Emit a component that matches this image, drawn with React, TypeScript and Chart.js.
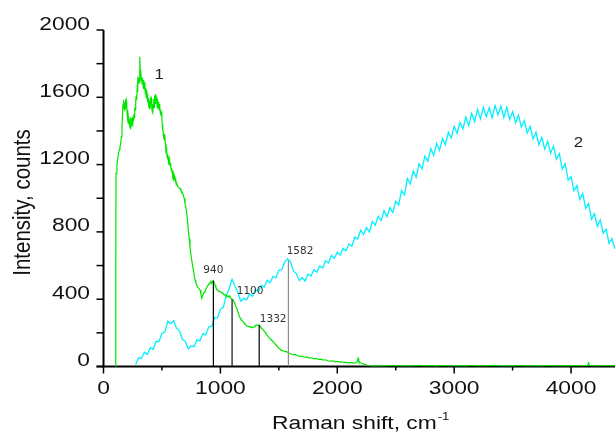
import React, { useEffect, useRef } from "react";
import { Chart, registerables } from "chart.js";

Chart.register(...registerables);

// ---- Data ----
const greenShift = [
  98, 104, 105, 107, 115, 125, 135, 141, 148, 153, 158, 163, 167, 170, 174, 178, 181, 184, 188, 191, 195, 198,
  202, 205, 209, 212, 216, 220, 224, 227, 231, 234, 238, 241, 245, 248, 252, 255, 259, 263, 267, 270, 274, 277,
  280, 284, 288, 291, 295, 298, 302, 305, 309, 312, 315, 319, 323, 327, 330, 334, 338, 341, 345, 348, 352, 355,
  359, 362, 366, 370, 374, 377, 380, 383, 387, 391, 394, 398, 401, 405, 408, 412, 416, 419, 423, 426, 430, 434,
  437, 441, 444, 448, 451, 455, 458, 462, 465, 469, 473, 476, 480, 483, 487, 490, 494, 498, 502, 505, 509, 512,
  516, 519, 523, 526, 530, 534, 537, 541, 545, 548, 552, 555, 559, 562, 566, 569, 573, 576, 580, 583, 587, 590,
  594, 597, 601, 605, 608, 612, 616, 619, 623, 626, 633, 640, 648, 655, 662, 669, 676, 683, 690, 697, 705, 712,
  719, 726, 733, 740, 747, 755, 762, 769, 776, 783, 790, 797, 804, 811, 818, 826, 833, 840, 847, 854, 861, 868,
  876, 883, 890, 897, 904, 911, 918, 925, 933, 940, 947, 954, 961, 968, 975, 982, 990, 997, 1004, 1012, 1019,
  1026, 1033, 1040, 1047, 1054, 1061, 1068, 1075, 1082, 1089, 1096, 1103, 1111, 1118, 1125, 1132, 1140, 1147,
  1154, 1161, 1168, 1175, 1182, 1189, 1196, 1203, 1210, 1218, 1225, 1232, 1239, 1246, 1253, 1260, 1267, 1274,
  1282, 1289, 1296, 1303, 1311, 1318, 1325, 1332, 1339, 1346, 1354, 1361, 1368, 1375, 1382, 1390, 1397, 1404,
  1411, 1418, 1425, 1432, 1440, 1447, 1453, 1461, 1468, 1475, 1482, 1490, 1497, 1504, 1511, 1518, 1525, 1532,
  1540, 1547, 1554, 1567, 1580, 1600, 1620, 1640, 1660, 1680, 1700, 1720, 1740, 1760, 1780, 1800, 1820, 1840,
  1860, 1880, 1900, 1920, 1940, 1960, 1980, 2000, 2020, 2040, 2060, 2080, 2100, 2120, 2140, 2160, 2172, 2178,
  2184, 2195, 2210, 2230, 2250, 2270, 2290, 2310, 2350, 2400, 2450, 2500, 2550, 2600, 2650, 2700, 2750, 2800,
  2850, 2900, 2950, 3000, 3050, 3100, 3150, 3200, 3250, 3300, 3350, 3400, 3450, 3500, 3550, 3600, 3650, 3700,
  3750, 3800, 3850, 3900, 3950, 4000, 4050, 4100, 4140, 4150, 4160, 4200, 4250, 4300, 4350, 4376,
];
const greenCounts = [
  0, 0, 600, 1148, 1200, 1250, 1290, 1306, 1330, 1366, 1420, 1500, 1560, 1584, 1530, 1570, 1520, 1544, 1590, 1540, 1580, 1564,
  1500, 1525, 1470, 1485, 1440, 1470, 1420, 1445, 1410, 1480, 1440, 1475, 1430, 1485, 1445, 1465, 1500, 1480, 1540, 1525, 1590, 1560,
  1610, 1584, 1650, 1630, 1700, 1683, 1720, 1690, 1760, 1841, 1730, 1760, 1700, 1722, 1680, 1715, 1670, 1703, 1650, 1690, 1640, 1683,
  1620, 1655, 1600, 1643, 1590, 1620, 1570, 1594, 1540, 1575, 1530, 1564, 1600, 1550, 1595, 1584, 1520, 1560, 1510, 1544, 1590, 1540,
  1610, 1594, 1560, 1620, 1575, 1604, 1550, 1590, 1540, 1574, 1530, 1560, 1520, 1544, 1500, 1525, 1490, 1515, 1440, 1400, 1410, 1386,
  1350, 1380, 1340, 1366, 1320, 1290, 1300, 1267, 1240, 1265, 1230, 1247, 1220, 1235, 1195, 1208, 1185, 1195, 1165, 1178, 1150, 1165,
  1135, 1148, 1120, 1130, 1105, 1119, 1095, 1105, 1080, 1089, 1075, 1068, 1060, 1059, 1045, 1039, 1030, 1019, 1000, 970, 945, 910,
  865, 811, 760, 712, 670, 633, 600, 574, 540, 514, 500, 484, 475, 468, 462, 455, 430, 405, 420, 432, 440, 445,
  460, 470, 478, 485, 492, 498, 505, 495, 508, 510, 498, 485, 470, 462, 455, 448, 445, 445, 442, 436, 438,
  430, 425, 428, 420, 422, 416, 418, 412, 415, 405, 402, 398, 395, 380, 370, 358, 346, 330,
  318, 300, 290, 282, 275, 270, 266, 258, 252, 246, 242, 240, 236, 238, 237, 232, 236, 230,
  234, 236, 240, 244, 247, 245, 244, 247, 238, 232, 227, 222, 216, 210, 204, 196, 188, 182,
  176, 170, 165, 160, 156, 150, 147, 140, 134, 128, 122, 116, 110, 105, 102, 98, 96, 94,
  92, 90, 88, 88, 82, 76, 70, 72, 64, 60, 62, 55, 57, 50, 52, 45, 48, 42,
  44, 38, 40, 34, 32, 34, 28, 30, 26, 28, 24, 25, 22, 24, 20, 22, 30, 48,
  30, 24, 18, 14, 9, 6, 3, 1, 4, 2, 6, 3, 5, 2, 4, 7, 3, 5,
  2, 6, 4, 3, 5, 2, 6, 4, 3, 5, 7, 3, 4, 2, 6, 4, 3, 5,
  2, 6, 4, 3, 5, 4, 6, 3, 5, 22, 6, 4, 3, 6, 4, 5,
];

const blueShift = [
  275, 300, 325, 350, 375, 400, 425, 450, 475, 500, 525, 550, 575, 600, 625, 650, 675, 700, 725, 750, 775, 800,
  825, 850, 875, 900, 925, 950, 975, 1000, 1025, 1050, 1075, 1100, 1125, 1150, 1175, 1200, 1225, 1250, 1275,
  1300, 1325, 1350, 1375, 1400, 1425, 1450, 1475, 1500, 1525, 1550, 1575, 1600, 1625, 1650, 1675, 1700, 1725,
  1750, 1775, 1800, 1825, 1850, 1875, 1900, 1925, 1950, 1975, 2000, 2025, 2050, 2075, 2100, 2125, 2150, 2175,
  2200, 2225, 2250, 2275, 2300, 2325, 2350, 2375, 2400, 2425, 2450, 2475, 2500, 2525, 2550, 2575, 2600, 2625,
  2650, 2675, 2700, 2725, 2750, 2775, 2800, 2825, 2850, 2875, 2900, 2925, 2950, 2975, 3000, 3025, 3050, 3075,
  3100, 3125, 3150, 3175, 3200, 3225, 3250, 3275, 3300, 3325, 3350, 3375, 3400, 3425, 3450, 3475, 3500, 3525,
  3550, 3575, 3600, 3625, 3650, 3675, 3700, 3725, 3750, 3775, 3800, 3825, 3850, 3875, 3900, 3925, 3950, 3975,
  4000, 4025, 4050, 4075, 4100, 4125, 4150, 4175, 4200, 4225, 4250, 4275, 4300, 4325, 4350, 4375,
];
const blueCounts = [
  12, 52, 48, 85, 72, 112, 102, 150, 148, 196, 205, 268, 255, 272, 228, 212, 162, 148, 105, 122, 118, 158,
  152, 195, 188, 235, 238, 290, 288, 340, 352, 420, 462, 518, 478, 438, 388, 405, 396, 432, 418,
  458, 446, 482, 472, 512, 498, 535, 528, 572, 575, 620, 640, 622, 568, 552, 510, 528, 508,
  548, 538, 575, 560, 598, 585, 628, 615, 660, 642, 680, 662, 702, 688, 728, 715, 770, 758,
  810, 785, 825, 800, 862, 840, 892, 868, 925, 890, 945, 915, 982, 960, 1045, 1020, 1118, 1085,
  1162, 1125, 1205, 1175, 1250, 1220, 1295, 1255, 1325, 1285, 1355, 1318, 1392, 1358, 1428, 1385, 1450, 1412,
  1482, 1432, 1505, 1455, 1528, 1472, 1540, 1485, 1538, 1478, 1552, 1495, 1548, 1480, 1540, 1468, 1515, 1448,
  1495, 1422, 1462, 1388, 1428, 1352, 1392, 1318, 1362, 1292, 1338, 1268, 1310, 1232, 1265, 1172, 1205, 1108,
  1128, 1045, 1075, 992, 1028, 940, 968, 875, 908, 832, 872, 792, 815, 732, 760, 698,
];

const peakShift = [940, 1100, 1332, 1582];
const peakTop = [510, 400, 247, 629];

const curveTag = ["1", "2"];
const curveTagShift = [477, 4062];
const curveTagCount = [1737, 1333];

const xTickValues = [0, 500, 1000, 1500, 2000, 2500, 3000, 3500, 4000];
const xTickLabels = ["0", "", "1000", "", "2000", "", "3000", "", "4000"];
const yTickValues = [0, 200, 400, 600, 800, 1000, 1200, 1400, 1600, 1800, 2000];
const yTickLabels = ["0", "", "400", "", "800", "", "1200", "", "1600", "", "2000"];

const xTitle = "Raman shift, cm";
const xTitleSup = "-1";
const yTitle = "Intensity, counts";

const X_MIN = 0;
const X_MAX = 4376;
const Y_MIN = 0;
const Y_MAX = 2000;

// ---- Style ----
const SX = 1.2;
const AXIS_FONT = '19px "Liberation Sans", Arial, sans-serif';
const peakColors = ["#000000", "#111111", "#000000", "#8a8a8a"];
const peakLabelOffset = [
  [0, -8],
  [18, -5],
  [14, -3.3],
  [11.6, -6.7],
];

function drawText(
  ctx: CanvasRenderingContext2D,
  text: string,
  x: number,
  y: number,
  font: string,
  align: CanvasTextAlign,
  sx: number,
  color: string
) {
  ctx.save();
  ctx.translate(x, y);
  ctx.scale(sx, 1);
  ctx.font = font;
  ctx.fillStyle = color;
  ctx.textAlign = align;
  ctx.textBaseline = "alphabetic";
  ctx.fillText(text, 0, 0);
  ctx.restore();
}

const axesPlugin = {
  id: "customAxes",
  beforeDatasetsDraw(chart: any) {
    const { ctx, scales } = chart;
    const x = scales.x;
    const y = scales.y;
    const x0 = x.getPixelForValue(X_MIN);
    const y0 = y.getPixelForValue(Y_MIN);
    const yTop = y.getPixelForValue(Y_MAX);
    ctx.save();
    ctx.strokeStyle = "#000";
    ctx.lineWidth = 2;
    ctx.beginPath();
    ctx.moveTo(x0, yTop);
    ctx.lineTo(x0, y0 + 1);
    ctx.stroke();
    ctx.beginPath();
    ctx.moveTo(x0 - 7, y0);
    ctx.lineTo(chart.width, y0);
    ctx.stroke();
    ctx.lineWidth = 1.5;
    yTickValues.forEach((v) => {
      const p = y.getPixelForValue(v);
      ctx.beginPath();
      ctx.moveTo(x0 - 7, p);
      ctx.lineTo(x0, p);
      ctx.stroke();
    });
    xTickValues.forEach((v, i) => {
      const p = x.getPixelForValue(v);
      const len = xTickLabels[i] !== "" ? 7 : 4;
      ctx.beginPath();
      ctx.moveTo(p, y0);
      ctx.lineTo(p, y0 + len);
      ctx.stroke();
    });
    ctx.restore();
  },
  afterDraw(chart: any) {
    const { ctx, scales } = chart;
    const x = scales.x;
    const y = scales.y;
    const y0 = y.getPixelForValue(Y_MIN);
    const color = "#111";
    // y tick labels
    yTickValues.forEach((v, i) => {
      if (!yTickLabels[i]) return;
      const p = y.getPixelForValue(v);
      drawText(ctx, yTickLabels[i], 90, p - 0.5, AXIS_FONT, "right", SX, color);
    });
    // x tick labels
    xTickValues.forEach((v, i) => {
      if (!xTickLabels[i]) return;
      const p = x.getPixelForValue(v);
      drawText(ctx, xTickLabels[i], p, y0 + 27, AXIS_FONT, "center", SX, color);
    });
    // x title
    const titleLeft = 272;
    const titleBase = 428.5;
    drawText(ctx, xTitle, titleLeft, titleBase, AXIS_FONT, "left", SX, color);
    ctx.save();
    ctx.font = AXIS_FONT;
    const w = ctx.measureText(xTitle).width * SX;
    ctx.restore();
    drawText(ctx, xTitleSup, titleLeft + w + 1, titleBase - 8.5, '11px "Liberation Sans", Arial, sans-serif', "left", SX, color);
    // y title
    ctx.save();
    ctx.translate(30, 202.5);
    ctx.rotate(-Math.PI / 2);
    ctx.scale(1, SX);
    ctx.font = '20.5px "Liberation Sans", Arial, sans-serif';
    ctx.fillStyle = color;
    ctx.textAlign = "center";
    ctx.textBaseline = "alphabetic";
    ctx.fillText(yTitle, 0, 0);
    ctx.restore();
    // peak labels
    peakShift.forEach((s, i) => {
      const px = x.getPixelForValue(s);
      const py = y.getPixelForValue(peakTop[i]);
      drawText(
        ctx,
        String(s),
        px + peakLabelOffset[i][0],
        py + peakLabelOffset[i][1],
        '10.5px "DejaVu Sans", sans-serif',
        "center",
        1,
        "#333"
      );
    });
    // curve tags
    curveTag.forEach((tag, i) => {
      const px = x.getPixelForValue(curveTagShift[i]);
      const py = y.getPixelForValue(curveTagCount[i]);
      drawText(ctx, tag, px, py + 5, '14px "Liberation Sans", Arial, sans-serif', "center", SX, "#222");
    });
  },
};

export default function App() {
  const canvasRef = useRef<HTMLCanvasElement | null>(null);

  useEffect(() => {
    const canvas = canvasRef.current;
    if (!canvas) return;

    const peakDatasets = peakShift.map((s, i) => ({
      label: "peak " + s,
      data: [
        { x: s, y: 0 },
        { x: s, y: peakTop[i] },
      ],
      borderColor: peakColors[i],
      borderWidth: 1.2,
      pointRadius: 0,
      fill: false,
      order: 0,
    }));

    const chart = new Chart(canvas, {
      type: "line",
      data: {
        datasets: [
          ...peakDatasets,
          {
            label: "1",
            data: greenShift.map((s, i) => ({ x: s, y: greenCounts[i] })),
            borderColor: "#00e600",
            borderWidth: 1.2,
            pointRadius: 0,
            tension: 0,
            fill: false,
            order: 1,
          },
          {
            label: "2",
            data: blueShift.map((s, i) => ({ x: s, y: blueCounts[i] })),
            borderColor: "#00f0ff",
            borderWidth: 1.3,
            pointRadius: 0,
            tension: 0,
            fill: false,
            order: 2,
          },
        ],
      },
      options: {
        responsive: false,
        animation: false,
        layout: { padding: { top: 30, left: 0, right: 0, bottom: 0 } },
        plugins: {
          legend: { display: false },
          tooltip: { enabled: false },
        },
        scales: {
          x: {
            type: "linear",
            min: X_MIN,
            max: X_MAX,
            ticks: { display: false },
            grid: { display: false },
            border: { display: false },
            afterFit: (s: any) => {
              s.height = 66.5;
            },
          },
          y: {
            type: "linear",
            min: Y_MIN,
            max: Y_MAX,
            ticks: { display: false },
            grid: { display: false },
            border: { display: false },
            afterFit: (s: any) => {
              s.width = 103.5;
            },
          },
        },
      },
      plugins: [axesPlugin],
    });

    return () => chart.destroy();
  }, []);

  return (
    <div style={{ position: "fixed", left: 0, top: 0, width: 615, height: 433, background: "#fff" }}>
      <canvas ref={canvasRef} width={615} height={433} style={{ display: "block" }} />
    </div>
  );
}
